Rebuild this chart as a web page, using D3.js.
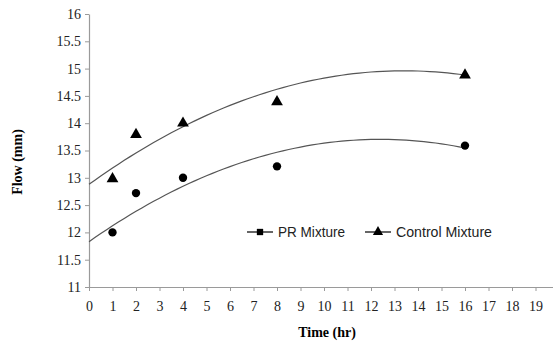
<!DOCTYPE html>
<html>
<head>
<meta charset="utf-8">
<script src="https://cdn.jsdelivr.net/npm/d3@7"></script>
<style>
  body { margin: 0; background: #fff; }
  svg { display: block; }
  .axis path, .axis line { stroke: #9a9a9a; }
</style>
</head>
<body>
<svg id="chart" width="553" height="347"></svg>
<script>
// hours sampled
var hours = [1, 2, 4, 8, 16];
var prMixture = [12.0, 12.72, 13.0, 13.21, 13.59];
var controlMixture = [12.98, 13.79, 14.0, 14.39, 14.88];
// quadratic trendlines: [a, b, c] -> a + b*t + c*t^2
var prTrend = [11.83, 0.3023, -0.01219];
var controlTrend = [12.88, 0.3104, -0.01158];
var xTicks = d3.range(0, 20);
var yTicks = [11, 11.5, 12, 12.5, 13, 13.5, 14, 14.5, 15, 15.5, 16];

var svg = d3.select("#chart");

var x = d3.scaleLinear().domain([0, 20]).range([89, 559]);
var y = d3.scaleLinear().domain([11, 16]).range([287, 14]);

var serif = "'Liberation Serif', 'Times New Roman', serif";

var yAxis = d3.axisLeft(y).tickValues(yTicks).tickSize(4).tickSizeOuter(0)
	.tickFormat(function(d) { return d3.format("")(d); });
svg.append("g").attr("class", "axis").attr("transform", "translate(89,0)").call(yAxis)
	.selectAll("text").attr("x", -8)
	.style("font-family", serif).style("font-size", "14px").attr("fill", "#222");

var xAxis = d3.axisBottom(x).tickValues(xTicks).tickSize(4).tickSizeOuter(0);
svg.append("g").attr("class", "axis").attr("transform", "translate(0,287)").call(xAxis)
	.selectAll("text").attr("y", 14)
	.style("font-family", serif).style("font-size", "14px").attr("fill", "#222");
svg.selectAll(".domain").attr("stroke-width", 1.2);

// trendlines from t=0 to t=16
var trendLine = function(coef) {
	var pts = d3.range(0, 16.01, 0.25).map(function(t) {
		return [t, coef[0] + coef[1] * t + coef[2] * t * t];
	});
	return d3.line().x(function(d) { return x(d[0]); }).y(function(d) { return y(d[1]); })(pts);
};
[prTrend, controlTrend].forEach(function(c) {
	svg.append("path").attr("d", trendLine(c))
		.attr("fill", "none").attr("stroke", "#555").attr("stroke-width", 1.2);
});

var circle = d3.symbol().type(d3.symbolCircle).size(55);
var tri = d3.symbol().type(d3.symbolTriangle).size(60);

svg.selectAll(".pr").data(prMixture).enter().append("path")
	.attr("class", "pr").attr("d", circle)
	.attr("transform", function(d, i) { return "translate(" + x(hours[i]) + "," + y(d) + ")"; })
	.attr("fill", "#000");

svg.selectAll(".ctl").data(controlMixture).enter().append("path")
	.attr("class", "ctl").attr("d", tri)
	.attr("transform", function(d, i) { return "translate(" + x(hours[i]) + "," + y(d) + ")"; })
	.attr("fill", "#000");

// legend
var legend = svg.append("g").attr("transform", "translate(0,232)");
var drawKey = function(x0, sym, label, w) {
	legend.append("line").attr("x1", x0).attr("x2", x0 + 26).attr("y1", 0).attr("y2", 0)
		.attr("stroke", "#000").attr("stroke-width", 1.2);
	legend.append("path").attr("d", sym).attr("transform", "translate(" + (x0 + 13) + ",0)").attr("fill", "#000");
	legend.append("text").attr("x", x0 + 31).attr("y", 5).text(label)
		.attr("textLength", w).attr("lengthAdjust", "spacingAndGlyphs")
		.style("font-family", "'Liberation Sans', Arial, sans-serif")
		.style("font-size", "14px").attr("fill", "#222");
};
drawKey(247, d3.symbol().type(d3.symbolSquare).size(40), "PR Mixture", 67);
drawKey(365, d3.symbol().type(d3.symbolTriangle).size(45), "Control Mixture", 96);

// axis titles
svg.append("text").attr("x", 327).attr("y", 337).attr("text-anchor", "middle")
	.style("font-family", serif).style("font-weight", "bold").style("font-size", "14px")
	.text("Time (hr)");
svg.append("text").attr("transform", "translate(22,162) rotate(-90)").attr("text-anchor", "middle")
	.style("font-family", serif).style("font-weight", "bold").style("font-size", "14px")
	.text("Flow (mm)");
</script>
</body>
</html>
